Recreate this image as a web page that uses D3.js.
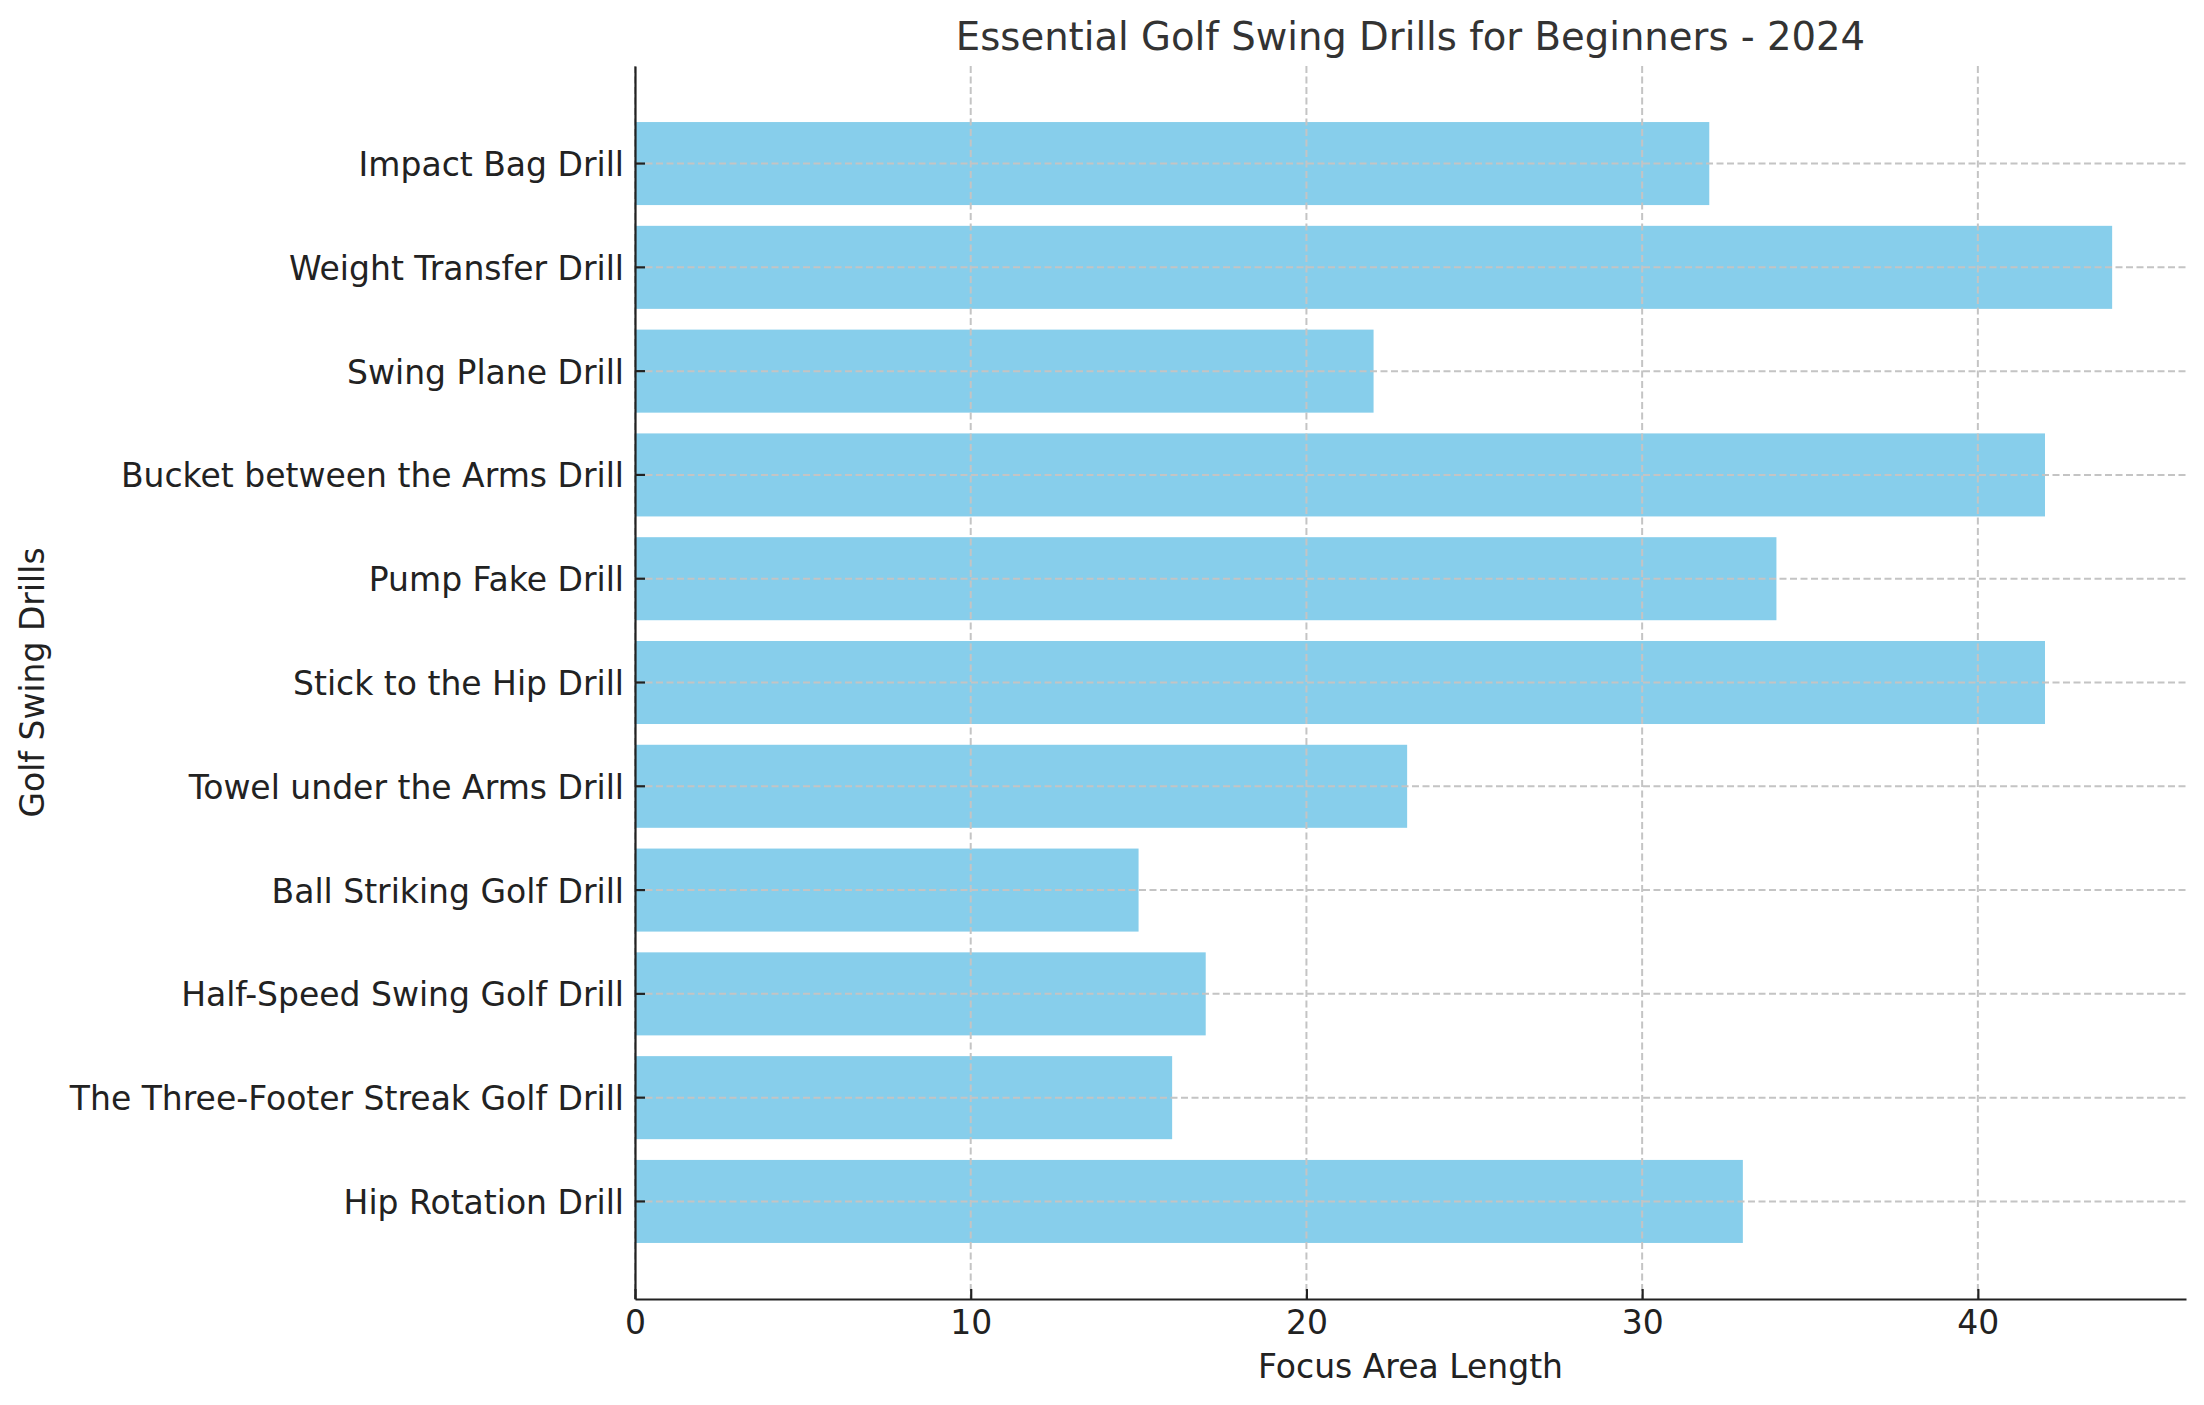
<!DOCTYPE html>
<html>
<head>
<meta charset="utf-8">
<script src="https://cdn.jsdelivr.net/npm/d3@7"></script>
<style>
  body { margin: 0; background: #fff; }
  svg { display: block; font-family: "DejaVu Sans", sans-serif; }
</style>
</head>
<body>
<svg id="vis"></svg>
<script>
// data, bottom bar first (as plotted)
var drills = [
	"Hip Rotation Drill",
	"The Three-Footer Streak Golf Drill",
	"Half-Speed Swing Golf Drill",
	"Ball Striking Golf Drill",
	"Towel under the Arms Drill",
	"Stick to the Hip Drill",
	"Pump Fake Drill",
	"Bucket between the Arms Drill",
	"Swing Plane Drill",
	"Weight Transfer Drill",
	"Impact Bag Drill"
];
var focusLength = [33, 16, 17, 15, 23, 42, 34, 42, 22, 44, 32];
var xTicks = [0, 10, 20, 30, 40];

function main() {
	var W = 2204, H = 1405;
	var plot = {left: 635, right: 2186, top: 66, bottom: 1299};

	var svg = d3.select("svg#vis")
		.attr("width", W)
		.attr("height", H);

	svg.append("rect")
		.attr("width", W)
		.attr("height", H)
		.attr("fill", "#ffffff");

	var rows = drills.map(function(d, i) { return {name: d, value: focusLength[i]}; });

	var xScale = d3.scaleLinear()
		.domain([0, d3.max(focusLength) * 1.05])
		.range([plot.left, plot.right]);

	var yScale = d3.scaleBand()
		.domain(drills.slice().reverse())
		.range([plot.top, plot.bottom])
		.paddingInner(0.2)
		.paddingOuter(0.54);

	// bars
	svg.append("g").selectAll("rect.bar")
		.data(rows)
		.enter().append("rect")
		.attr("class", "bar")
		.attr("x", xScale(0))
		.attr("y", function(d) { return yScale(d.name); })
		.attr("width", function(d) { return xScale(d.value) - xScale(0); })
		.attr("height", yScale.bandwidth())
		.attr("fill", "#87ceeb");

	// grid sits on top of the bars
	var grid = svg.append("g")
		.attr("stroke", "#c4c4c4")
		.attr("stroke-width", 2)
		.attr("stroke-dasharray", "7,3.5");

	grid.selectAll("line.vgrid")
		.data(xTicks)
		.enter().append("line")
		.attr("x1", function(d) { return xScale(d); })
		.attr("x2", function(d) { return xScale(d); })
		.attr("y1", plot.top)
		.attr("y2", plot.bottom);

	grid.selectAll("line.hgrid")
		.data(drills)
		.enter().append("line")
		.attr("x1", plot.left)
		.attr("x2", plot.right)
		.attr("y1", function(d) { return yScale(d) + yScale.bandwidth() / 2; })
		.attr("y2", function(d) { return yScale(d) + yScale.bandwidth() / 2; });

	// axes
	var xAxis = svg.append("g")
		.attr("transform", "translate(0," + plot.bottom + ")")
		.call(d3.axisBottom(xScale)
			.tickValues(xTicks)
			.tickFormat(d3.format("d"))
			.tickSizeInner(-10)
			.tickSizeOuter(0)
			.tickPadding(12));

	var yAxis = svg.append("g")
		.attr("transform", "translate(" + plot.left + ",0)")
		.call(d3.axisLeft(yScale)
			.tickSizeInner(-10)
			.tickSizeOuter(0)
			.tickPadding(11));

	[xAxis, yAxis].forEach(function(a) {
		a.attr("font-family", null).attr("font-size", null);
		a.select(".domain").attr("stroke", "#222").attr("stroke-width", 2.2);
		a.selectAll(".tick line").attr("stroke", "#222").attr("stroke-width", 2.2);
		a.selectAll(".tick text")
			.style("font-family", "'DejaVu Sans', sans-serif")
			.style("font-size", "33px")
			.attr("fill", "#222");
	});
	yAxis.selectAll(".tick text").attr("dy", "0.38em");

	// titles
	svg.append("text")
		.text("Essential Golf Swing Drills for Beginners - 2024")
		.attr("x", (plot.left + plot.right) / 2)
		.attr("y", 50)
		.attr("text-anchor", "middle")
		.style("font-size", "38.6px")
		.attr("fill", "#333");

	svg.append("text")
		.text("Focus Area Length")
		.attr("x", (plot.left + plot.right) / 2)
		.attr("y", 1378)
		.attr("text-anchor", "middle")
		.style("font-size", "33px")
		.attr("fill", "#222");

	svg.append("text")
		.text("Golf Swing Drills")
		.attr("transform", "translate(44," + (plot.top + plot.bottom) / 2 + ") rotate(-90)")
		.attr("text-anchor", "middle")
		.style("font-size", "33px")
		.attr("fill", "#222");
}

main();
</script>
</body>
</html>
